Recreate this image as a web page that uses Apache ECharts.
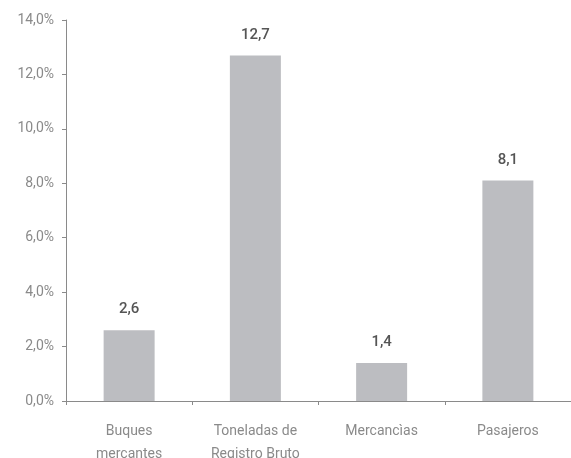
<!DOCTYPE html>
<html>
<head>
<meta charset="utf-8">
<script src="https://cdn.jsdelivr.net/npm/echarts@6/dist/echarts.min.js"></script>
<style>
  html, body { margin: 0; padding: 0; background: #fff; }
  #chart { width: 571px; height: 458px; }
</style>
</head>
<body>
<div id="chart"></div>
<script>
// categorias y valores (%)
var categories = ["Buques\nmercantes", "Toneladas de\nRegistro Bruto", "Mercancìas", "Pasajeros"];
var values = [2.6, 12.7, 1.4, 8.1];
var yTicks = [0, 2, 4, 6, 8, 10, 12, 14];

var myChart = echarts.init(document.getElementById("chart"));
var option = {
  animation: false,
  textStyle: { fontFamily: "Roboto, 'Liberation Sans', sans-serif" },
  grid: { left: 66, right: 0, top: 20, bottom: 57, outerBoundsMode: "none", containLabel: false },
  xAxis: {
    type: "category",
    data: categories,
    axisLine: { lineStyle: { color: "#8a8a8a", width: 1 } },
    axisTick: { show: true, length: 4, lineStyle: { color: "#8a8a8a" } },
    axisLabel: { color: "#8a8a8a", fontSize: 14, margin: 19, lineHeight: 23 }
  },
  yAxis: {
    type: "value",
    min: yTicks[0],
    max: yTicks[yTicks.length - 1],
    interval: 2,
    splitLine: { show: false },
    axisLine: { show: true, lineStyle: { color: "#8a8a8a", width: 1 } },
    axisTick: { show: true, length: 4, lineStyle: { color: "#8a8a8a" } },
    axisLabel: {
      color: "#8a8a8a", fontSize: 14, margin: 12,
      formatter: function (v) { return v.toFixed(1).replace(".", ",") + "%"; }
    }
  },
  series: [{
    type: "bar",
    data: values,
    barWidth: 51,
    itemStyle: { color: "#bcbdc1" },
    label: {
      show: true,
      position: "top",
      distance: 13,
      color: "#555",
      fontSize: 15,
      fontWeight: 500,
      formatter: function (p) { return p.value.toFixed(1).replace(".", ","); }
    }
  }]
};
myChart.setOption(option);
</script>
</body>
</html>
